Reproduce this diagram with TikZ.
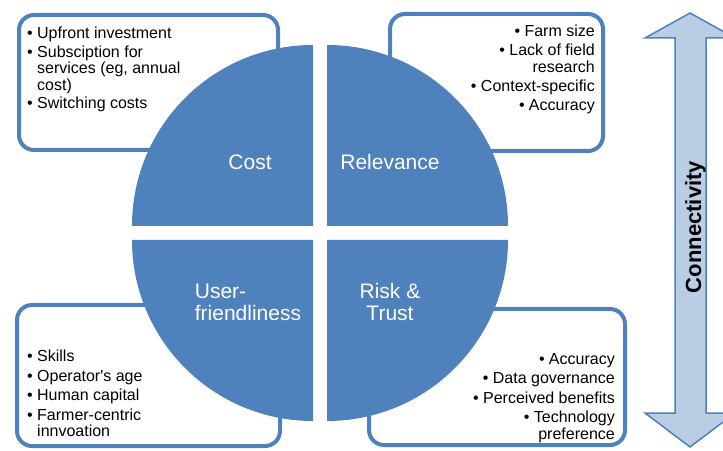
\documentclass[tikz,border=0pt]{standalone}
\usepackage{fontspec}
\setmainfont{Liberation Sans}
\usetikzlibrary{positioning}
\definecolor{quadblue}{RGB}{79,129,189}
\definecolor{arrowfill}{RGB}{185,205,229}
\newcommand{\bitem}{\makebox[10pt][l]{•}}
\newcommand{\bcont}{\hspace*{10pt}}

\begin{document}
\begin{tikzpicture}[x=1pt,y=1pt,
    box/.style={draw=quadblue, line width=4pt, rounded corners=15pt, fill=white},
    quad/.style={fill=quadblue},
    lbl/.style={text=white, font=\fontsize{21}{22}\selectfont, align=center},
    items/.style={inner sep=0pt, font=\fontsize{16}{16.5}\selectfont}]
    \useasboundingbox (0,0) rectangle (723,450);

    % boxes behind the circle
    \node[box, minimum width=259pt, minimum height=135pt] (costbox) at (148.5,367.5) {};
    \node[box, minimum width=213pt, minimum height=137pt] (relbox) at (496.5,367.5) {};
    \node[box, minimum width=263pt, minimum height=141pt] (userbox) at (148.5,74.5) {};
    \node[box, minimum width=256pt, minimum height=136pt] (riskbox) at (497,73) {};

    % four quadrants
    \fill[quad] (313,224) -- ++(-181,0) arc[start angle=180, end angle=90, radius=181pt] -- cycle;
    \fill[quad] (327,224) -- ++(0,181) arc[start angle=90, end angle=0, radius=181pt] -- cycle;
    \fill[quad] (313,210) -- ++(0,-181) arc[start angle=270, end angle=180, radius=181pt] -- cycle;
    \fill[quad] (327,210) -- ++(181,0) arc[start angle=0, end angle=-90, radius=181pt] -- cycle;

    \node[lbl] (cost) at (250,288) {Cost};
    \node[lbl] (rel) at (390,288) {Relevance};
    \node[lbl, align=left] (user) at (248,148) {User-\\friendliness};
    \node[lbl] (risk) at (390,148) {Risk \&\\Trust};

    % bullet lists
    \node[items, anchor=north west, align=left] (costitems) at (27,423) {\bitem Upfront investment\\[2pt]
        \bitem Subsciption for\\ \bcont services (eg, annual\\ \bcont cost)\\[2pt]
        \bitem Switching costs};
    \node[items, anchor=north east, align=right] (relitems) at (595,425) {\bitem Farm size\\[2.5pt]
        \bitem Lack of field\\ research\\[3pt]
        \bitem Context-specific\\[2.5pt]
        \bitem Accuracy};
    \node[items, anchor=north west, align=left] (useritems) at (27,100) {\bitem Skills\\[3pt]
        \bitem Operator\textquotesingle s age\\[3pt]
        \bitem Human capital\\[3pt]
        \bitem Farmer-centric\\ \bcont innvoation};
    \node[items, anchor=north east, align=right] (riskitems) at (615,97) {\bitem Accuracy\\[3pt]
        \bitem Data governance\\[3pt]
        \bitem Perceived benefits\\[3pt]
        \bitem Technology\\ preference};

    % connectivity arrow
    \draw[draw=quadblue, fill=arrowfill, line width=1.5pt, line join=miter]
        (690,437) -- (645,412) -- (675,412) -- (675,37) -- (645,37) -- (690,3)
        -- (735,37) -- (706,37) -- (706,412) -- (735,412) -- cycle;
    \node[rotate=90, anchor=base, font=\fontsize{22}{24}\selectfont\bfseries] (conn) at (701,223) {Connectivity};
\end{tikzpicture}
\end{document}
